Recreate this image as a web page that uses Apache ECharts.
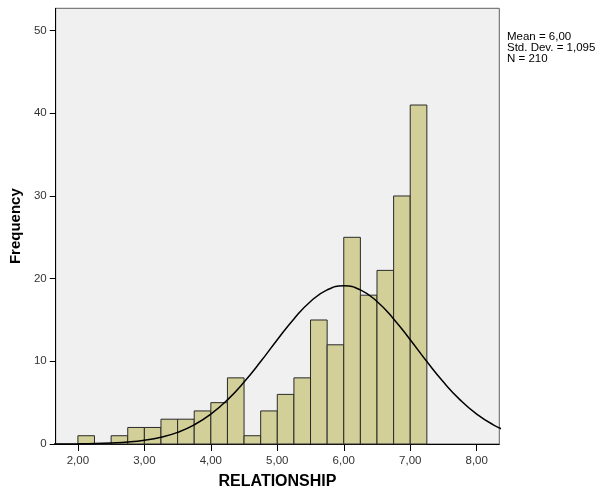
<!DOCTYPE html>
<html>
<head>
<meta charset="utf-8">
<script src="https://cdn.jsdelivr.net/npm/echarts@6/dist/echarts.min.js"></script>
<style>html,body{margin:0;padding:0;background:#fff}#c{width:598px;height:495px}</style>
</head>
<body>
<div id="c"></div>
<script>
// Histogram bins (left edge) and counts, bin width 0.25
var binStarts = [2.00,2.25,2.50,2.75,3.00,3.25,3.50,3.75,4.00,4.25,4.50,4.75,5.00,5.25,5.50,5.75,6.00,6.25,6.50,6.75,7.00];
var counts    = [1,   0,   1,   2,   2,   3,   3,   4,   5,   8,   1,   4,   6,   8,   15,  12,  25,  18,  21,  30,  41];
var binWidth = 0.25;
// Normal curve
var curveX = [1.50,1.75,2.00,2.25,2.50,2.75,3.00,3.25,3.50,3.75,4.00,4.25,4.50,4.75,5.00,5.25,5.50,5.75,6.00,6.25,6.50,6.75,7.00,7.25,7.50,7.75,8.00,8.25,8.50];
var curveY = [0.00,0.01,0.02,0.05,0.12,0.23,0.45,0.82,1.41,2.32,3.61,5.34,7.49,9.97,12.61,15.13,17.24,18.64,19.13,18.64,17.24,15.13,12.61,9.97,7.49,5.34,3.61,2.32,1.41];
var xTicks = [2,3,4,5,6,7,8];
var yTicks = [0,10,20,30,40,50];
var statsLines = ['Mean = 6,00','Std. Dev. = 1,095','N = 210'];

var chart = echarts.init(document.getElementById('c'), null, {renderer:'canvas'});
var histData = binStarts.map(function(s,i){return [s, s+binWidth, counts[i]];});
var curveData = curveX.map(function(x,i){return [x, curveY[i]];});
var FONT = 'Liberation Sans, Arial, sans-serif';
chart.setOption({
  animation:false,
  backgroundColor:'#ffffff',
  grid:{left:55.5,right:98.7,top:8.3,bottom:51,show:true,backgroundColor:'#f0f0f0',borderColor:'#606060',borderWidth:1},
  xAxis:{type:'value',min:1.666,max:8.34,
    name:'RELATIONSHIP',nameLocation:'middle',nameGap:30,
    nameTextStyle:{fontFamily:FONT,fontSize:16,fontWeight:'bold',color:'#000'},
    axisLine:{show:true,onZero:false,lineStyle:{color:'#000',width:1}},
    axisTick:{show:true,inside:false,length:7,customValues:xTicks,lineStyle:{color:'#000'}},
    axisLabel:{customValues:xTicks,margin:11,fontFamily:FONT,fontSize:11.5,color:'#333',
      formatter:function(v){return v.toFixed(2).replace('.',',');}},
    splitLine:{show:false}},
  yAxis:{type:'value',min:0,max:52.7,
    name:'Frequency',nameLocation:'middle',nameGap:32,nameRotate:90,
    nameTextStyle:{fontFamily:FONT,fontSize:15,fontWeight:'bold',color:'#000'},
    axisLine:{show:true,lineStyle:{color:'#000',width:1}},
    axisTick:{show:true,inside:false,length:6,customValues:yTicks,lineStyle:{color:'#000'}},
    axisLabel:{customValues:yTicks,margin:9,fontFamily:FONT,fontSize:11.5,color:'#333'},
    splitLine:{show:false}},
  series:[
    {type:'custom',
     renderItem:function(params,api){
       var p0 = api.coord([api.value(0), api.value(2)]);
       var p1 = api.coord([api.value(1), 0]);
       return {type:'rect',shape:{x:p0[0],y:p0[1],width:p1[0]-p0[0],height:p1[1]-p0[1]},
         style:{fill:'#d3cf98',stroke:'#2a2a2a',lineWidth:1}};
     },
     encode:{x:[0,1],y:2},
     data:histData,z:2},
    {type:'line',data:curveData,smooth:true,showSymbol:false,symbol:'none',
     lineStyle:{color:'#000',width:1.5},z:3,clip:true}
  ],
  graphic:statsLines.map(function(t,i){
    return {type:'text',left:507,top:30.5+i*11,style:{text:t,font:'11.5px '+FONT,fill:'#000'}};
  })
});
</script>
</body>
</html>
